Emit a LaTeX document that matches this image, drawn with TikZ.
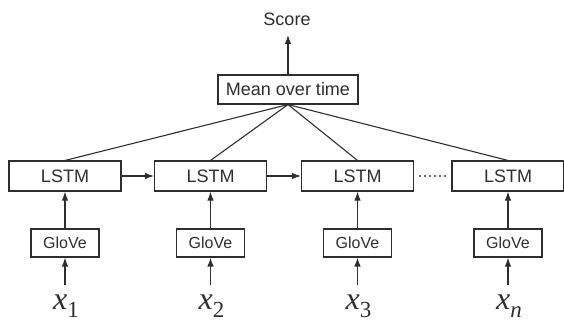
\documentclass[tikz,border=0pt]{standalone}
\usepackage{fontspec}
\setmainfont{Liberation Sans}
\newfontfamily\timesfont{Liberation Serif}
\usetikzlibrary{arrows.meta}
\definecolor{ink}{HTML}{2E2E2E}
\tikzset{
  box/.style={draw=ink, line width=1.1pt, minimum height=29pt, inner sep=0pt, text=ink},
  lstmbox/.style={box, minimum width=112pt, minimum height=30pt, font=\fontsize{18}{18}\selectfont},
  glovebox/.style={box, minimum width=68pt, minimum height=28pt, font=\fontsize{16}{16}\selectfont},
  meanbox/.style={box, minimum width=140pt, minimum height=29pt, font=\fontsize{18}{18}\selectfont},
  conn/.style={draw=ink, line width=1.1pt},
  arr/.style={conn, -{Latex[length=9pt,width=6.5pt]}},
  dotline/.style={draw=ink, line width=2.2pt, line cap=round, dash pattern=on 0pt off 5pt},
  xlab/.style={text=ink, font=\timesfont\fontsize{32}{32}\selectfont\itshape, inner sep=0pt}
}
\begin{document}
\begin{tikzpicture}[x=1pt,y=-1pt]
\useasboundingbox (0,0) rectangle (564,323);
% top
\node[text=ink, font=\fontsize{18}{18}\selectfont, inner sep=0pt] (score) at (287,19) {Score};
\coordinate (scoretip) at (288,35);
\node[meanbox] (mean) at (288,89.5) {Mean over time};
% LSTMs
\node[lstmbox] (l1) at (65,176) {LSTM};
\node[lstmbox] (l2) at (210.5,176) {LSTM};
\node[lstmbox] (l3) at (357.5,176) {LSTM};
\node[lstmbox] (l4) at (508,176) {LSTM};
% GloVe
\node[glovebox] (g1) at (65,243) {GloVe};
\node[glovebox] (g2) at (210.5,243) {GloVe};
\node[glovebox] (g3) at (357.5,243) {GloVe};
\node[glovebox] (g4) at (508,243) {GloVe};
% inputs
\coordinate (i1) at (65,285);
\coordinate (i2) at (210.5,285);
\coordinate (i3) at (357.5,285);
\coordinate (i4) at (508,285);
\node[xlab] (x1) at (66,306) {x\raisebox{-8pt}{\upshape\fontsize{23}{23}\selectfont 1}};
\node[xlab] (x2) at (211.5,306) {x\raisebox{-8pt}{\upshape\fontsize{23}{23}\selectfont 2}};
\node[xlab] (x3) at (358.5,306) {x\raisebox{-8pt}{\upshape\fontsize{23}{23}\selectfont 3}};
\node[xlab] (x4) at (509,306) {x\raisebox{-8pt}{\fontsize{23}{23}\selectfont n}};
% connectors
\draw[arr] (mean.north) -- (scoretip);
\foreach \i in {1,2,3,4}{
  \draw[conn] (l\i.north) -- (mean.south);
  \draw[arr] (g\i.north) -- (l\i.south);
  \draw[arr] (i\i) -- (g\i.south);
}
\draw[arr] (l1.east) -- (l2.west);
\draw[arr] (l2.east) -- (l3.west);
\draw[dotline, shorten <=6pt, shorten >=6pt] (l3.east) -- (l4.west);
\end{tikzpicture}
\end{document}
